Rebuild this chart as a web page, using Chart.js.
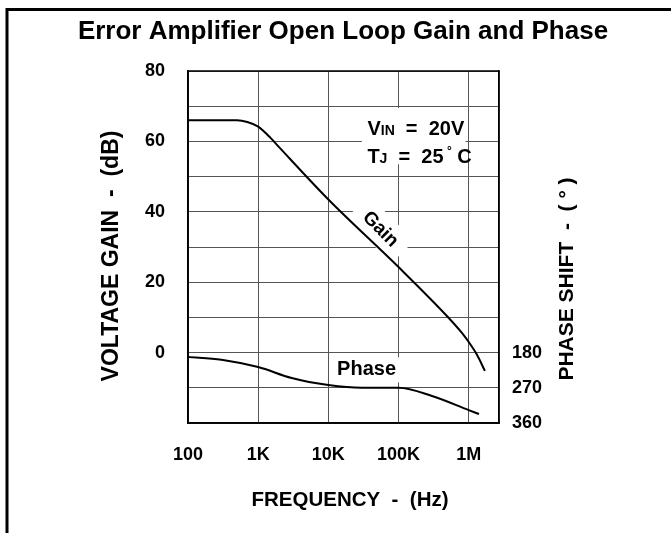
<!DOCTYPE html>
<html>
<head>
<meta charset="utf-8">
<script src="https://cdn.jsdelivr.net/npm/chart.js@4.4.0/dist/chart.umd.min.js"></script>
<style>
  html, body { margin: 0; padding: 0; background: #fff; }
  #wrap { width: 671px; height: 533px; }
</style>
</head>
<body>
<div id="wrap"><canvas id="chart" width="671" height="533"></canvas></div>
<script>
// axis ticks
const freqTicks = [100, 1000, 10000, 100000, 1000000];
const freqLabels = ['100', '1K', '10K', '100K', '1M'];
const gainLabels = [80, 60, 40, 20, 0];
const phaseTicks = [180, 270, 360];

// gain curve (Hz, dB)
const gainFreq = [100, 500, 700, 1000, 1500, 2000, 10000, 100000, 500000, 800000, 1000000, 1300000, 1700000];
const gainDb   = [66, 66, 65.5, 64.2, 61, 58.3, 43.5, 24.3, 10.2, 5.6, 3, -0.5, -5.2];

// phase curve (Hz, degrees)
const phaseFreq = [100, 300, 1000, 3000, 10000, 30000, 100000, 300000, 1000000, 1400000];
const phaseDeg  = [191, 198, 217, 245, 263, 270, 270, 291, 327, 337];

const FONT = '"Liberation Sans", Arial, sans-serif';
const tickFont = { family: FONT, size: 18, weight: 'bold' };

function boxAt(ctx, x, y, w, h, angle) {
    ctx.save();
    ctx.translate(x, y);
    ctx.rotate(angle || 0);
    ctx.fillStyle = '#fff';
    ctx.fillRect(-w / 2, -h / 2, w, h);
    ctx.restore();
}

function textAt(ctx, str, x, y, size, angle) {
    ctx.save();
    ctx.translate(x, y);
    ctx.rotate(angle || 0);
    ctx.font = 'bold ' + size + 'px ' + FONT;
    ctx.fillStyle = '#000';
    ctx.textAlign = 'center';
    ctx.textBaseline = 'middle';
    ctx.fillText(str, 0, 0);
    ctx.restore();
}

// draws a run of [text, size, dy] pieces left to right
function runAt(ctx, parts, x, y) {
    ctx.save();
    ctx.fillStyle = '#000';
    ctx.textAlign = 'left';
    ctx.textBaseline = 'alphabetic';
    parts.forEach(p => {
        ctx.font = 'bold ' + p[1] + 'px ' + FONT;
        ctx.fillText(p[0], x, y + (p[2] || 0));
        x += ctx.measureText(p[0]).width;
    });
    ctx.restore();
}

// labels, masks and frame
const decor = {
    id: 'decor',
    beforeDatasetsDraw(chart) {
        const { ctx, scales: { x, y } } = chart;
        // white boxes behind the in-plot labels
        boxAt(ctx, x.getPixelForValue(55000), y.getPixelForValue(35), 32, 64, -Math.PI / 4);
        boxAt(ctx, x.getPixelForValue(35000), y.getPixelForValue(-4.9), 68, 25);
        ctx.save();
        ctx.fillStyle = '#fff';
        const l = x.getPixelForValue(30000), r = x.getPixelForValue(900000);
        const t = y.getPixelForValue(69.5), b = y.getPixelForValue(53.5);
        ctx.fillRect(l, t, r - l, b - t);
        ctx.restore();
    },
    afterDatasetsDraw(chart) {
        const { ctx, chartArea: a, scales: { x, y } } = chart;
        ctx.save();
        ctx.strokeStyle = '#000';
        ctx.lineWidth = 1.5;
        ctx.strokeRect(a.left, a.top, a.right - a.left, a.bottom - a.top);

        // outer frame (top and left only)
        ctx.lineWidth = 3;
        ctx.beginPath();
        ctx.moveTo(7, 533);
        ctx.lineTo(7, 9.5);
        ctx.lineTo(671, 9.5);
        ctx.stroke();
        ctx.restore();

        textAt(ctx, 'Error Amplifier Open Loop Gain and Phase', 343, 32, 26);
        textAt(ctx, 'VOLTAGE GAIN  -  (dB)', 112, 256, 23, -Math.PI / 2);
        textAt(ctx, 'PHASE SHIFT  -  ( \u00B0 )', 567, 279, 21, -Math.PI / 2);
        textAt(ctx, 'FREQUENCY  -  (Hz)', 350, 500, 20.5);

        textAt(ctx, 'Gain', x.getPixelForValue(55000), y.getPixelForValue(35), 19, Math.PI / 4);
        textAt(ctx, 'Phase', x.getPixelForValue(35000), y.getPixelForValue(-4.9), 20);

        // operating conditions
        const px = x.getPixelForValue(36000);
        runAt(ctx, [['V', 20], ['IN', 14], ['  =  20V', 20]], px, y.getPixelForValue(61.8));
        runAt(ctx, [['T', 20], ['J', 14], ['  =  25', 20], [' \u00B0', 12, -8], [' C', 20]], px, y.getPixelForValue(53.8));
    }
};

const ctx = document.getElementById('chart').getContext('2d');
const chart = new Chart(ctx, {
    type: 'line',
    data: {
        datasets: [
            {
                label: 'Gain',
                data: gainFreq.map((f, i) => ({ x: f, y: gainDb[i] })),
                yAxisID: 'y',
                borderColor: '#000',
                borderWidth: 2,
                pointRadius: 0,
                cubicInterpolationMode: 'monotone',
                fill: false
            },
            {
                label: 'Phase',
                data: phaseFreq.map((f, i) => ({ x: f, y: phaseDeg[i] })),
                yAxisID: 'y2',
                borderColor: '#000',
                borderWidth: 2,
                pointRadius: 0,
                cubicInterpolationMode: 'monotone',
                fill: false
            }
        ]
    },
    options: {
        responsive: false,
        animation: false,
        layout: { padding: { top: 71, left: 0, right: 0, bottom: 0 } },
        plugins: {
            legend: { display: false },
            tooltip: { enabled: false }
        },
        scales: {
            x: {
                type: 'logarithmic',
                min: 100,
                max: 2700000,
                afterBuildTicks: s => { s.ticks = freqTicks.map(v => ({ value: v })); },
                afterFit: s => { s.height = 110; },
                ticks: {
                    callback: v => freqLabels[freqTicks.indexOf(v)],
                    font: tickFont,
                    color: '#000',
                    padding: 21,
                    maxRotation: 0,
                    autoSkip: false
                },
                grid: { color: '#555', lineWidth: 1, drawTicks: false },
                border: { color: '#000', width: 1.5 }
            },
            y: {
                position: 'left',
                min: -20,
                max: 80,
                afterFit: s => { s.width = 188; },
                ticks: {
                    stepSize: 10,
                    callback: v => gainLabels.includes(v) ? String(v) : '',
                    font: tickFont,
                    color: '#000',
                    padding: 23
                },
                grid: { color: '#555', lineWidth: 1, drawTicks: false },
                border: { color: '#000', width: 1.5 }
            },
            y2: {
                position: 'right',
                reverse: true,
                min: -540,
                max: 360,
                afterBuildTicks: s => { s.ticks = phaseTicks.map(v => ({ value: v })); },
                afterFit: s => { s.width = 172; },
                ticks: {
                    font: tickFont,
                    color: '#000',
                    padding: 13
                },
                grid: { display: false, drawTicks: false },
                border: { color: '#000', width: 1.5 }
            }
        }
    },
    plugins: [decor]
});
</script>
</body>
</html>
